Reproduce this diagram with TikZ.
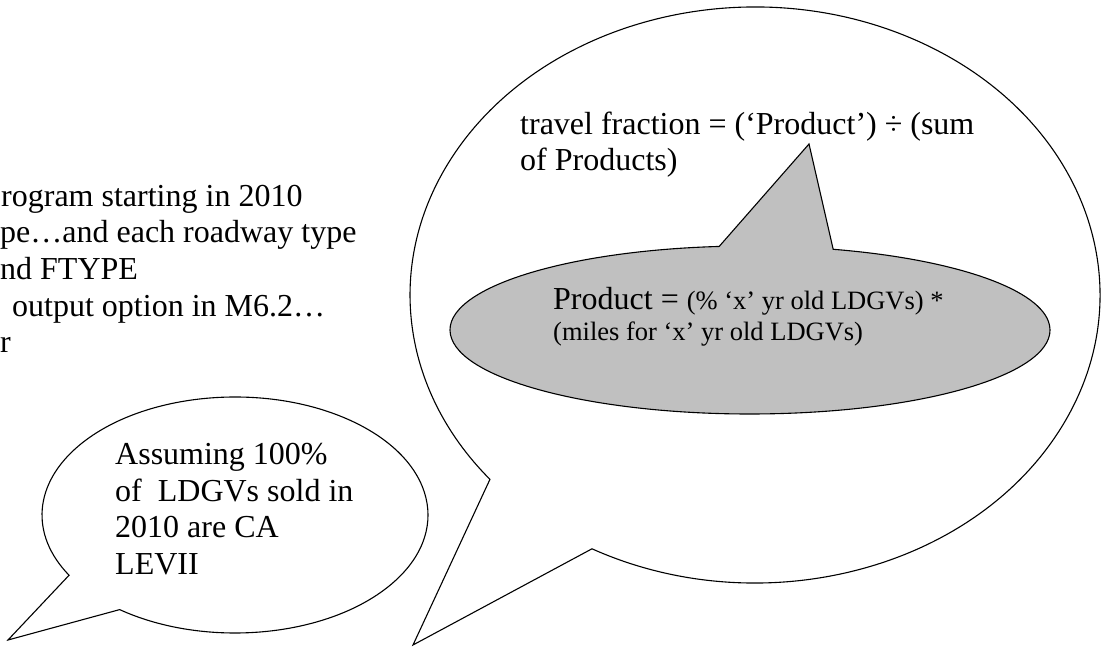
\documentclass[tikz,border=0pt]{standalone}
\usepackage{fontspec}
\setmainfont{Liberation Serif}
\usetikzlibrary{calc}
\definecolor{bubblegray}{RGB}{192,192,192}
\tikzset{
  bubble/.style={draw=black, line width=1.1pt, line join=miter},
  big/.style={font=\fontsize{32}{37}\selectfont, inner sep=0pt, anchor=base west},
  small/.style={font=\fontsize{26.5}{30}\selectfont, inner sep=0pt, anchor=base west}
}
\begin{document}
\begin{tikzpicture}[x=1pt,y=1pt]
\useasboundingbox (0,0) rectangle (1105,647);
% big bubble
\coordinate (bigc) at (755,352);
\coordinate (bigtip) at (413,2);
\draw[bubble, fill=white] ($(bigc)+(241.8:345 and 288)$) arc[start angle=241.8, end angle=579.8, x radius=345, y radius=288] -- (bigtip) -- cycle;
% gray bubble
\coordinate (grayc) at (750,317);
\coordinate (graytip) at (809,503);
\draw[bubble, fill=bubblegray] ($(grayc)+(95.9:300 and 84)$) arc[start angle=95.9, end angle=433.9, x radius=300, y radius=84] -- (graytip) -- cycle;
% small bubble
\coordinate (smc) at (235,132);
\coordinate (smtip) at (8,7);
\draw[bubble, fill=white] ($(smc)+(233.3:193 and 118)$) arc[start angle=233.3, end angle=570.7, x radius=193, y radius=118] -- (smtip) -- cycle;
% top-left clipped text
\node[big] (l1) at (1,440) {rogram starting in 2010};
\node[big] (l2) at (0,404) {pe…and each roadway type};
\node[big] (l3) at (0,367) {nd FTYPE};
\node[big] (l4) at (12,330) {output option in M6.2…};
\node[big] (l5) at (0,294) {r};
% big bubble text
\node[big] (t1) at (520,512) {travel fraction = (‘Product’) ÷ (sum};
\node[big] (t2) at (520,476) {of Products)};
% gray bubble text
\node[big] (p1) at (553,337) {Product = {\fontsize{26.5}{30}\selectfont(\% ‘x’ yr old LDGVs) *}};
\node[small] (p2) at (553,306) {(miles for ‘x’ yr old LDGVs)};
% small bubble text
\node[big] (a1) at (115,182) {Assuming 100\%};
\node[big] (a2) at (115,145) {of\ \ LDGVs sold in};
\node[big] (a3) at (115,109) {2010 are CA};
\node[big] (a4) at (115,72) {LEVII};
\end{tikzpicture}
\end{document}
